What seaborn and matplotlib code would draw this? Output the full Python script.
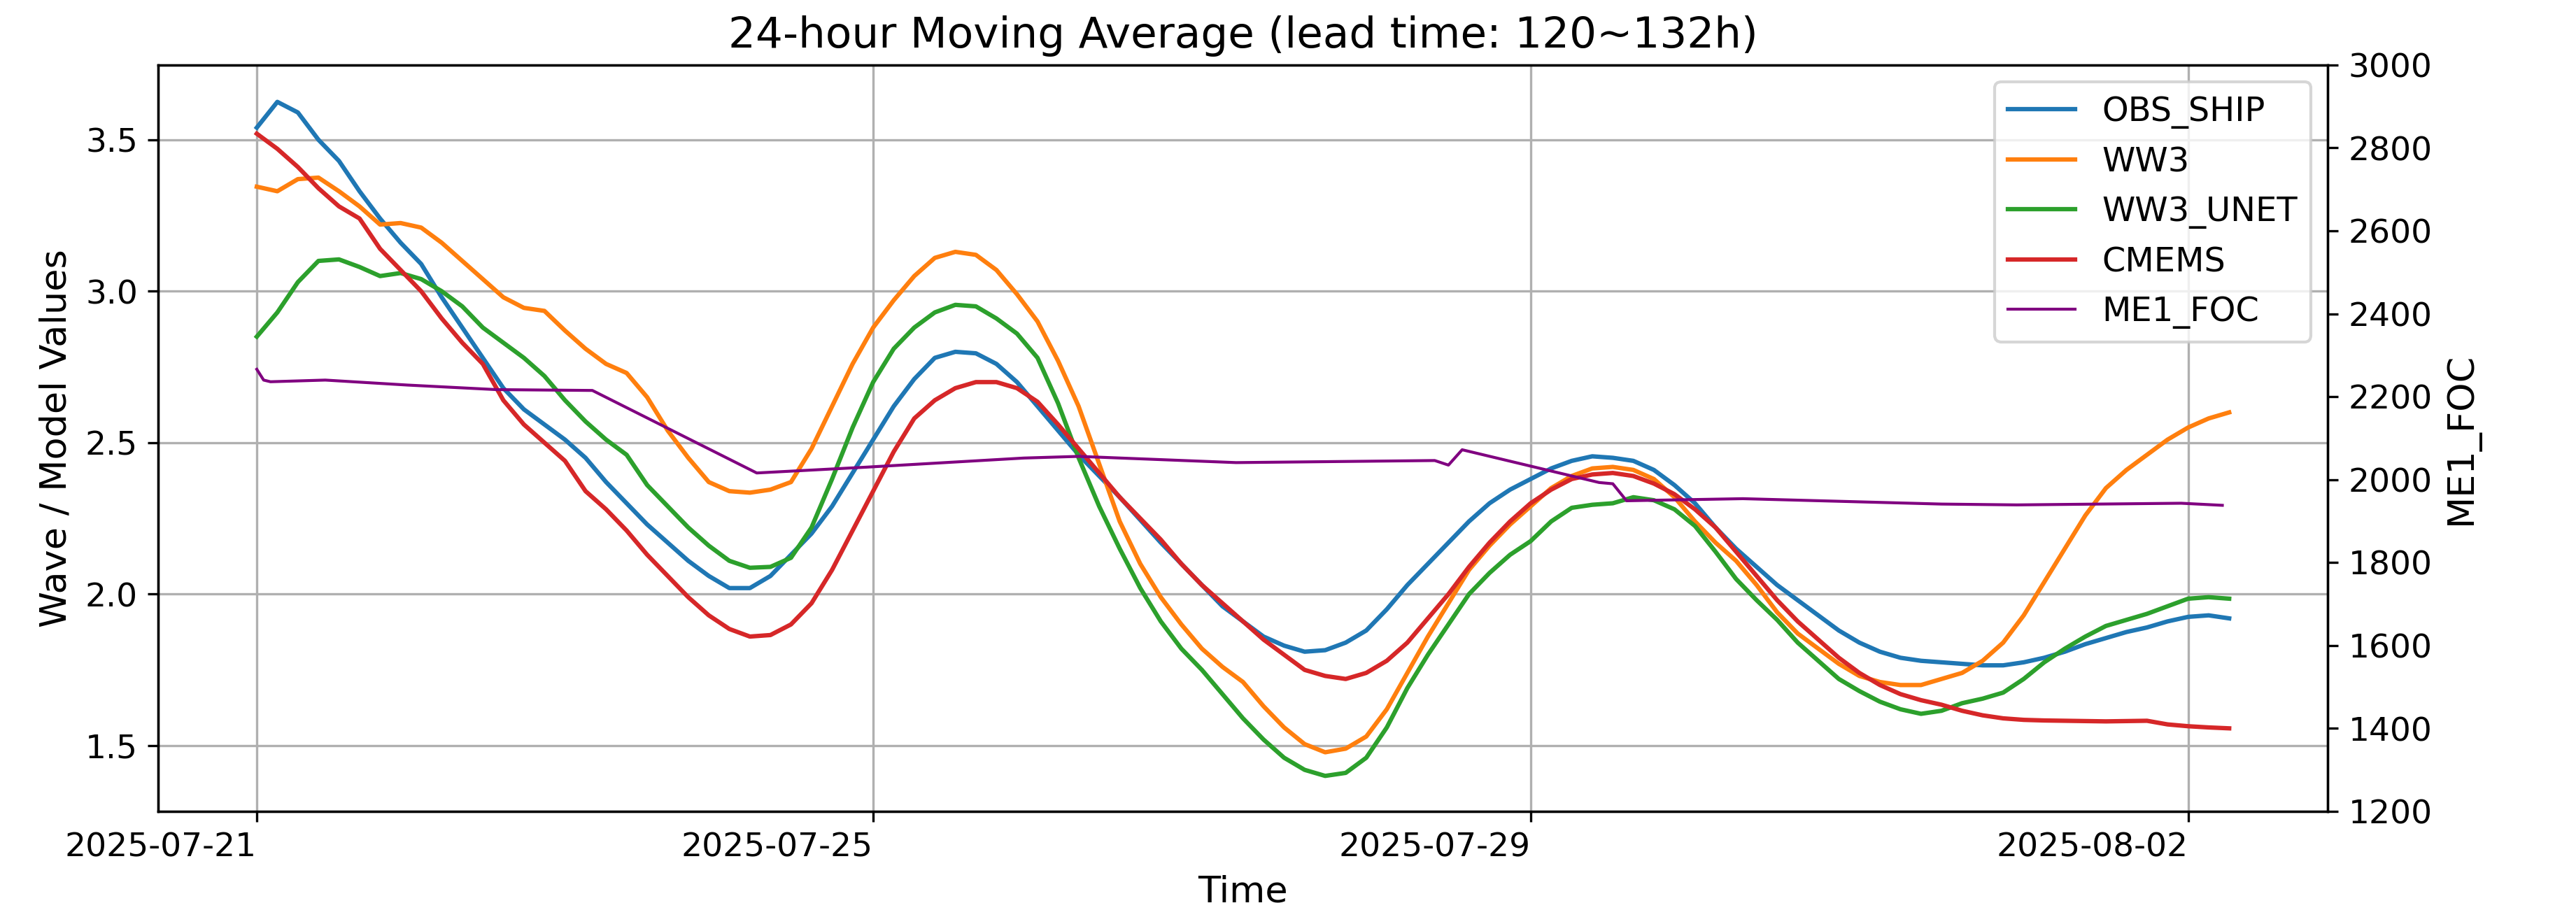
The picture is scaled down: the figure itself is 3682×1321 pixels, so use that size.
import numpy as np
import pandas as pd
import matplotlib
matplotlib.use("Agg")
import matplotlib.pyplot as plt
import matplotlib.dates as mdates
import seaborn as sns

# 3-hourly 24h moving average values, 2025-07-21 06:00 .. 2025-08-02 06:00
# (one row of 8 values per day)
times = pd.date_range("2025-07-21 06:00", periods=97, freq="3h")

obs_ship = [3.54, 3.625, 3.59, 3.50, 3.43, 3.33, 3.24, 3.16,
            3.09, 2.98, 2.88, 2.78, 2.68, 2.61, 2.56, 2.51,
            2.45, 2.37, 2.30, 2.23, 2.17, 2.11, 2.06, 2.02,
            2.02, 2.06, 2.13, 2.20, 2.29, 2.40, 2.51, 2.62,
            2.71, 2.78, 2.80, 2.795, 2.76, 2.70, 2.62, 2.54,
            2.46, 2.39, 2.32, 2.245, 2.17, 2.10, 2.03, 1.96,
            1.91, 1.86, 1.83, 1.81, 1.815, 1.84, 1.88, 1.95,
            2.03, 2.10, 2.17, 2.24, 2.30, 2.345, 2.38, 2.415,
            2.44, 2.455, 2.45, 2.44, 2.41, 2.36, 2.30, 2.22,
            2.15, 2.09, 2.03, 1.98, 1.93, 1.88, 1.84, 1.81,
            1.79, 1.78, 1.775, 1.77, 1.765, 1.765, 1.775, 1.79,
            1.81, 1.835, 1.855, 1.875, 1.89, 1.91, 1.925, 1.93,
            1.92]
ww3 = [3.345, 3.33, 3.37, 3.375, 3.33, 3.28, 3.22, 3.225,
       3.21, 3.16, 3.10, 3.04, 2.98, 2.945, 2.935, 2.87,
       2.81, 2.76, 2.73, 2.65, 2.54, 2.45, 2.37, 2.34,
       2.335, 2.345, 2.37, 2.48, 2.62, 2.76, 2.88, 2.97,
       3.05, 3.11, 3.13, 3.12, 3.07, 2.99, 2.90, 2.77,
       2.62, 2.43, 2.24, 2.10, 1.99, 1.90, 1.82, 1.76,
       1.71, 1.63, 1.56, 1.505, 1.478, 1.49, 1.53, 1.62,
       1.74, 1.86, 1.97, 2.08, 2.16, 2.23, 2.29, 2.35,
       2.39, 2.415, 2.42, 2.41, 2.38, 2.32, 2.24, 2.17,
       2.11, 2.03, 1.94, 1.87, 1.82, 1.77, 1.73, 1.71,
       1.70, 1.70, 1.72, 1.74, 1.78, 1.84, 1.93, 2.04,
       2.15, 2.26, 2.35, 2.41, 2.46, 2.51, 2.55, 2.58,
       2.60]
ww3_unet = [2.85, 2.93, 3.03, 3.10, 3.105, 3.08, 3.05, 3.06,
            3.04, 3.00, 2.95, 2.88, 2.83, 2.78, 2.72, 2.64,
            2.57, 2.51, 2.46, 2.36, 2.29, 2.22, 2.16, 2.11,
            2.087, 2.09, 2.12, 2.22, 2.38, 2.55, 2.70, 2.81,
            2.88, 2.93, 2.955, 2.95, 2.91, 2.86, 2.78, 2.63,
            2.45, 2.29, 2.15, 2.02, 1.91, 1.82, 1.75, 1.67,
            1.59, 1.52, 1.46, 1.42, 1.40, 1.41, 1.46, 1.56,
            1.69, 1.80, 1.90, 2.00, 2.07, 2.13, 2.175, 2.24,
            2.285, 2.295, 2.30, 2.32, 2.31, 2.28, 2.225, 2.14,
            2.05, 1.98, 1.915, 1.84, 1.78, 1.72, 1.68, 1.645,
            1.62, 1.605, 1.615, 1.64, 1.655, 1.675, 1.72, 1.775,
            1.82, 1.86, 1.895, 1.915, 1.935, 1.96, 1.985, 1.99,
            1.985]
cmems = [3.52, 3.47, 3.41, 3.34, 3.28, 3.24, 3.14, 3.07,
         3.00, 2.91, 2.83, 2.76, 2.64, 2.56, 2.50, 2.44,
         2.34, 2.28, 2.21, 2.13, 2.06, 1.99, 1.93, 1.885,
         1.86, 1.865, 1.90, 1.97, 2.08, 2.21, 2.34, 2.47,
         2.58, 2.64, 2.68, 2.70, 2.70, 2.68, 2.635, 2.56,
         2.48, 2.40, 2.32, 2.25, 2.18, 2.10, 2.03, 1.97,
         1.91, 1.85, 1.80, 1.75, 1.73, 1.72, 1.74, 1.78,
         1.84, 1.92, 2.00, 2.09, 2.17, 2.24, 2.30, 2.345,
         2.38, 2.395, 2.40, 2.39, 2.365, 2.33, 2.28, 2.22,
         2.14, 2.06, 1.98, 1.91, 1.85, 1.79, 1.74, 1.70,
         1.67, 1.65, 1.635, 1.615, 1.60, 1.59, 1.585, 1.583,
         1.582, 1.581, 1.58, 1.581, 1.582, 1.57, 1.564, 1.56,
         1.557]

# ME1_FOC (right axis), hours after 2025-07-21 06:00
me1_hours = [0, 1, 2, 10, 22, 35, 49, 73, 89, 112, 120, 143, 172, 174,
             176, 196, 198, 200, 217, 246, 257, 281, 287]
me1_foc = [2266, 2240, 2236, 2240, 2228, 2217, 2215, 2016, 2030, 2052,
           2056, 2041, 2046, 2035, 2072, 1993, 1990, 1949, 1954, 1941,
           1939, 1943, 1938]

names = ["OBS_SHIP", "WW3", "WW3_UNET", "CMEMS"]
series = [obs_ship, ww3, ww3_unet, cmems]
colors = ["#1f77b4", "#ff7f0e", "#2ca02c", "#d62728"]

fig, ax = plt.subplots(figsize=(12.274, 4.404), dpi=300)
fig.subplots_adjust(left=0.0614, right=0.9036, bottom=0.1219, top=0.9296)

for name, vals, c in zip(names, series, colors):
    sns.lineplot(x=times, y=vals, label=name, color=c, linewidth=1.5, ax=ax)

ax2 = ax.twinx()
foc_times = times[0] + pd.to_timedelta(me1_hours, unit="h")
sns.lineplot(x=foc_times, y=me1_foc, label="ME1_FOC", color="purple",
             linewidth=1.0, ax=ax2)

ax.set_ylim(1.283, 3.747)
ax2.set_ylim(1200, 3000)

ax.set_xticks([times[0], pd.Timestamp("2025-07-25"),
               pd.Timestamp("2025-07-29"), pd.Timestamp("2025-08-02")])
ax.xaxis.set_major_formatter(mdates.DateFormatter("%Y-%m-%d"))
plt.setp(ax.get_xticklabels(), ha="right", rotation=0)

ax.grid(True)
ax.tick_params(labelsize=11.3)
ax2.tick_params(labelsize=11.3)
ax.set_xlabel("Time", fontsize=12.6)
ax.set_ylabel("Wave / Model Values", fontsize=12.6)
ax2.set_ylabel("ME1_FOC", fontsize=12.6)
ax.set_title("24-hour Moving Average (lead time: 120~132h)", fontsize=14.7)

h1, l1 = ax.get_legend_handles_labels()
h2, l2 = ax2.get_legend_handles_labels()
ax.get_legend().remove()
ax2.get_legend().remove()
ax2.legend(h1 + h2, l1 + l2, loc="upper right", fontsize=11.5)

fig.savefig("out.png", dpi=300)
